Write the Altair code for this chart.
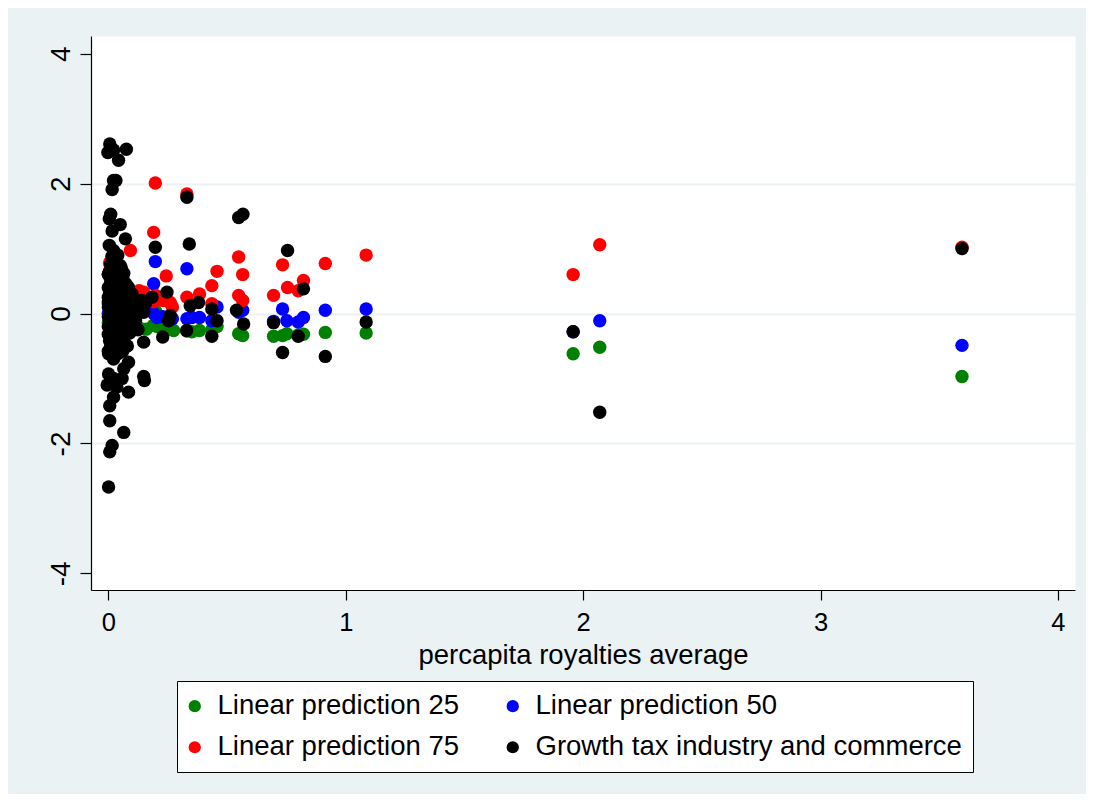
import altair as alt
import pandas as pd

# ---- data ----
series_names = ["Linear prediction 25", "Linear prediction 50",
                "Linear prediction 75", "Growth tax industry and commerce"]
series_colors = ["#008000", "#0000ff", "#ff0000", "#000000"]

x_p25 = [0.696, 0.752, 0.822, 0.734, 0.80, 0.914, 1.086, 0.549, 0.566, 0.458,
         0.436, 0.352, 0.384, 0.331, 0.275, 0.261, 0.205, 0.107, 0.0, 0.01,
         0.03, 0.05, 0.07, 0.13, 0.16, 0.19, 0.23, 0.2, 2.07, 1.958, 3.596]
y_p25 = [-0.35, -0.31, -0.32, -0.34, -0.33, -0.29, -0.30, -0.31, -0.34, -0.20,
         -0.25, -0.28, -0.26, -0.27, -0.26, -0.24, -0.20, -0.24, -0.14, -0.20,
         -0.18, -0.22, -0.20, -0.22, -0.24, -0.18, -0.25, 0.03, -0.52, -0.62, -0.97]

x_p50 = [0.198, 0.331, 0.191, 0.191, 0.734, 0.752, 0.80, 0.822, 0.914, 1.086,
         0.549, 0.566, 0.458, 0.436, 0.331, 0.352, 0.384, 0.205, 0.23, 0.27,
         0.0, 0.01, 0.03, 0.05, 0.08, 0.12, 0.15, 0.0, 0.02, 0.06, 0.696,
         2.07, 1.958, 3.596]
y_p50 = [0.80, 0.69, 0.46, 0.00, 0.07, -0.11, -0.13, -0.06, 0.05, 0.07,
         0.02, 0.05, 0.10, -0.11, -0.08, -0.06, -0.06, -0.06, -0.05, -0.08,
         0.00, 0.05, 0.10, 0.00, -0.05, -0.02, 0.05, 0.15, -0.08, 0.12, -0.12,
         -0.11, -0.28, -0.49]

x_p75 = [0.198, 0.331, 0.191, 0.093, 0.244, 0.458, 0.436, 0.549, 0.566, 0.734,
         0.914, 1.086, 0.755, 0.822, 0.80, 0.696, 0.549, 0.566, 0.436, 0.331,
         0.384, 0.261, 0.27, 0.065, 0.078, 0.149, 0.005, 0.02, 0.0, 0.01,
         0.03, 0.05, 0.12, 0.16, 0.19, 0.10, 0.002, 0.04, 0.2, 0.23, 0.13,
         2.07, 1.958, 3.596]
y_p75 = [2.01, 1.84, 1.25, 0.97, 0.58, 0.65, 0.43, 0.87, 0.60, 0.75,
         0.77, 0.90, 0.40, 0.51, 0.35, 0.28, 0.28, 0.20, 0.15, 0.25,
         0.30, 0.17, 0.10, 0.51, 0.38, 0.33, 0.78, 0.72, 0.60, 0.45,
         0.35, 0.30, 0.30, 0.22, 0.18, 0.20, 0.25, 0.15, 0.28, 0.20, 0.35,
         1.06, 0.60, 1.02]

x_growth = [0.006, -0.002, 0.043, 0.022, 0.076, 0.022, 0.032, 0.016,
            0.010, 0.004, 0.050, 0.016, 0.072, 0.004, 0.022, 0.040, 0.010, 0.050, 0.030,
            0.0, 0.01, 0.02, 0.04, 0.06, 0.0, 0.015, 0.03, 0.05, 0.07,
            0.0, 0.02, 0.04, 0.06, 0.08, 0.10, 0.0, 0.01, 0.03, 0.05, 0.07, 0.09, 0.12,
            0.0, 0.02, 0.04, 0.06, 0.08, 0.11, 0.0, 0.015, 0.035, 0.055, 0.075, 0.10,
            0.0, 0.02, 0.045, 0.065, 0.01, 0.03, 0.05,
            0.005, 0.025, 0.045, 0.065, 0.085, 0.005, 0.025, 0.045, 0.065, 0.085,
            0.005, 0.025, 0.045, 0.065, 0.085, 0.005, 0.025, 0.045, 0.065, 0.09,
            0.005, 0.025, 0.04, 0.06, 0.08, 0.0, 0.012, 0.03, 0.055, 0.075,
            0.10, 0.11, 0.115, 0.125, 0.13, 0.14, 0.0, 0.015, 0.035, 0.055,
            0.001, 0.022, 0.085, 0.065, 0.001, 0.022, 0.058, -0.005, 0.036, 0.085,
            0.022, 0.006, 0.006, 0.065, 0.016, 0.006, 0.001, 0.149, 0.152,
            0.156, 0.149, 0.184, 0.247, 0.261, 0.254, 0.229, 0.149, 0.065,
            0.198, 0.331, 0.341, 0.549, 0.567, 0.345, 0.38, 0.33, 0.436, 0.458,
            0.436, 0.54, 0.57, 0.696, 0.734, 0.755, 0.822, 0.80, 0.914, 1.086,
            1.958, 2.07, 3.596]
y_growth = [2.61, 2.48, 2.36, 2.52, 2.53, 2.05, 2.05, 1.91,
            1.53, 1.46, 1.37, 1.27, 1.15, 1.05, 0.97, 0.90, 0.76, 0.74, 0.85,
            0.60, 0.50, 0.55, 0.60, 0.50, 0.40, 0.35, 0.42, 0.38, 0.30,
            0.25, 0.20, 0.28, 0.20, 0.22, 0.18, 0.10, 0.05, 0.12, 0.08, 0.05, 0.10, 0.10,
            -0.05, -0.08, -0.02, -0.10, -0.05, -0.02, -0.20, -0.15, -0.22, -0.18, -0.25, -0.15,
            -0.32, -0.38, -0.30, -0.42, -0.50, -0.55, -0.48,
            0.65, 0.68, 0.45, 0.62, 0.40, 0.32, 0.28, 0.15, 0.35, 0.12,
            0.00, 0.02, -0.10, 0.15, -0.15, -0.12, -0.28, -0.42, -0.05, -0.30,
            -0.42, -0.48, -0.62, -0.58, -0.50, 0.18, 0.12, -0.12, 0.22, 0.45,
            0.30, 0.12, -0.10, -0.25, 0.05, 0.20, -0.58, 0.88, 0.70, 0.70,
            -0.62, -0.70, -0.75, -0.85, -0.93, -1.00, -1.00, -1.10, -1.13, -1.21,
            -1.29, -1.42, -1.65, -1.83, -2.03, -2.13, -2.67, -0.97, -1.03,
            0.15, 0.02, 0.25, 0.33, -0.03, -0.11, -0.36, -0.44, -0.42,
            1.02, 1.79, 1.07, 1.48, 1.53, 0.12, 0.17, -0.26, 0.07, -0.11,
            -0.35, 0.05, -0.16, -0.14, -0.60, 0.97, 0.38, -0.35, -0.66, -0.13,
            -0.28, -1.52, 1.00]

x_ticks = [0, 1, 2, 3, 4]
y_ticks = [-4, -2, 0, 2, 4]

rows = []
for name, xs, ys in [(series_names[0], x_p25, y_p25),
                     (series_names[1], x_p50, y_p50),
                     (series_names[2], x_p75, y_p75),
                     (series_names[3], x_growth, y_growth)]:
    for xv, yv in zip(xs, ys):
        rows.append({"series": name, "x": xv, "y": yv})
df = pd.DataFrame(rows)

FONT = "Liberation Sans"

chart = alt.Chart(df).mark_circle(size=180, opacity=1).encode(
    x=alt.X("x:Q",
            scale=alt.Scale(domain=[-0.073, 4.072], nice=False, zero=False),
            axis=alt.Axis(values=x_ticks, title="percapita royalties average",
                          labelExpr="'' + datum.value",
                          grid=False, tickSize=10, tickColor="black", tickWidth=1.2,
                          domainColor="black", domainWidth=1.2,
                          labelFont=FONT, labelFontSize=25.5, labelColor="black",
                          labelPadding=10, labelFlush=False,
                          titleFont=FONT, titleFontSize=27.5, titleFontWeight="normal",
                          titleColor="black", titleY=51, titleBaseline="top")),
    y=alt.Y("y:Q",
            scale=alt.Scale(domain=[-4.257, 4.274], nice=False, zero=False),
            axis=alt.Axis(values=y_ticks, title=None,
                          labelExpr="'' + datum.value",
                          grid=True, gridColor="#eaf2f3", gridWidth=2,
                          gridOpacity={"condition": {"test": "abs(datum.value) > 3", "value": 0}, "value": 1},
                          tickSize=11, tickColor="black", tickWidth=1.2,
                          domainColor="black", domainWidth=1.2,
                          labelFont=FONT, labelFontSize=28, labelColor="black",
                          labelAngle=270, labelAlign="center", labelBaseline="alphabetic",
                          labelPadding=11, labelFlush=False)),
    color=alt.Color("series:N",
                    scale=alt.Scale(domain=series_names, range=series_colors),
                    legend=alt.Legend(title=None, orient="none", legendX=86, legendY=645,
                                      direction="horizontal",
                                      columns=2, symbolType="circle", symbolSize=150,
                                      symbolStrokeWidth=0, symbolOpacity=1,
                                      symbolOffset=-7,
                                      labelFont=FONT, labelFontSize=27.5, labelColor="black",
                                      labelOffset=9, columnPadding=46, rowPadding=12.5,
                                      padding=11, fillColor="white", strokeColor="black",
                                      cornerRadius=0, labelLimit=600)),
).properties(
    width=984, height=554,
    autosize=alt.AutoSizeParams(type="none"),
    padding={"left": 83, "top": 28, "right": 11, "bottom": 204},
    background="#eaf2f3",
).configure_view(fill="white", stroke="transparent")

chart.save("out.html", embed_options={"renderer": "svg", "actions": False})
